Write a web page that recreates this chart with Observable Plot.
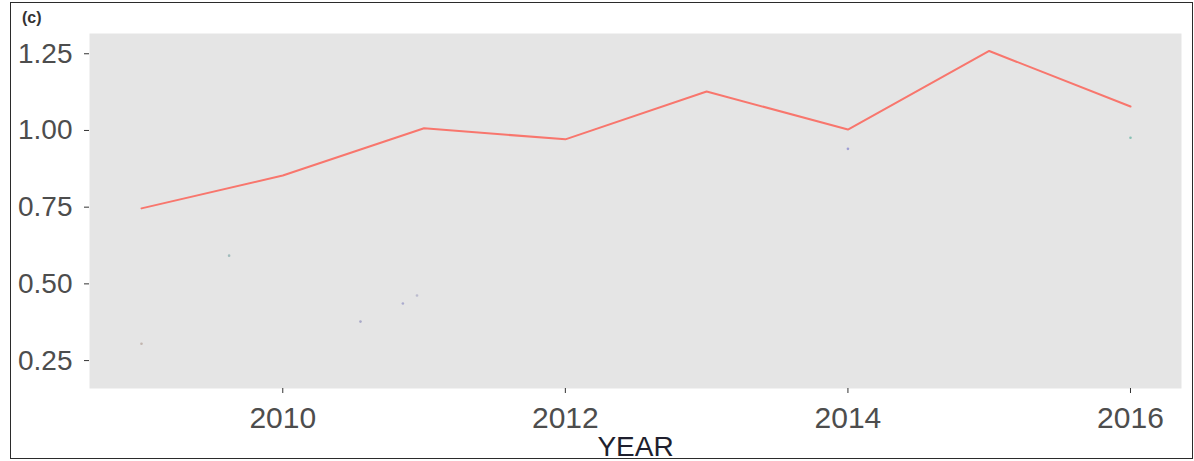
<!DOCTYPE html>
<html>
<head>
<meta charset="utf-8">
<script src="https://cdn.jsdelivr.net/npm/d3@7"></script>
<script src="https://cdn.jsdelivr.net/npm/@observablehq/plot@0.6"></script>
<style>
  html, body { margin: 0; padding: 0; background: #ffffff; }
  #wrap { position: relative; width: 1194px; height: 461px; overflow: hidden; }
  #frame { position: absolute; left: 10px; top: 2px; width: 1181px; height: 455px; border: 1.5px solid #2b2b2b; pointer-events: none; }
  #tag { position: absolute; left: 22px; top: 9px; font: bold 16px "Liberation Sans", Arial, sans-serif; color: #333; }
  svg { position: absolute; left: 0; top: 0; }
</style>
</head>
<body>
<div id="wrap">
  <div id="tag">(c)</div>
  <div id="frame"></div>
</div>
<script>
// Data
const years  = [2009, 2010, 2011, 2012, 2013, 2014, 2015, 2016];
const values = [0.746, 0.853, 1.007, 0.971, 1.127, 1.003, 1.259, 1.078];

// faint leftover specks visible in the panel
const traceYears  = [2009.0, 2009.62, 2010.55, 2010.85, 2010.95, 2014.0, 2016.0];
const traceValues = [0.305, 0.592, 0.377, 0.436, 0.462, 0.940, 0.976];
const traceColors = ["#b9a9a0", "#8fb0b0", "#9a9ac0", "#9c9cc8", "#b0b0c8", "#8c8cd0", "#6fb8a8"];

const yTicks = [0.25, 0.5, 0.75, 1.0, 1.25];
const xTicks = [2010, 2012, 2014, 2016];
const xTitle = "YEAR";

const series = years.map((y, i) => ({year: y, value: values[i]}));
const traces = traceYears.map((y, i) => ({year: y, value: traceValues[i], color: traceColors[i]}));

const chart = Plot.plot({
  width: 1194,
  height: 461,
  marginLeft: 89,
  marginRight: 13,
  marginTop: 33,
  marginBottom: 73,
  style: {background: "transparent", fontFamily: "'Liberation Sans', Arial, sans-serif"},
  x: {domain: [2008.632, 2016.361]},
  y: {domain: [0.159, 1.316]},
  marks: [
    Plot.frame({fill: "#e5e5e5", stroke: null}),
    Plot.axisY({ticks: yTicks, tickFormat: d3.format(".2f"), tickSize: 5, tickPadding: 12,
                fontSize: 28, color: "#4d4d4d", stroke: "#333333", label: null}),
    Plot.axisX({ticks: xTicks, tickFormat: d3.format("d"), tickSize: 5, tickPadding: 13,
                fontSize: 30, color: "#4d4d4d", stroke: "#333333", label: null}),
    Plot.dot(traces, {x: "year", y: "value", r: 1.3, fill: "color", stroke: null, fillOpacity: 0.8}),
    Plot.line(series, {x: "year", y: "value", stroke: "#F8766D", strokeWidth: 2}),
    Plot.text([xTitle], {frameAnchor: "bottom", dy: 48, lineAnchor: "top", fontSize: 28, fill: "#1f1f2e", text: d => d})
  ]
});
document.getElementById("wrap").prepend(chart);
</script>
</body>
</html>
